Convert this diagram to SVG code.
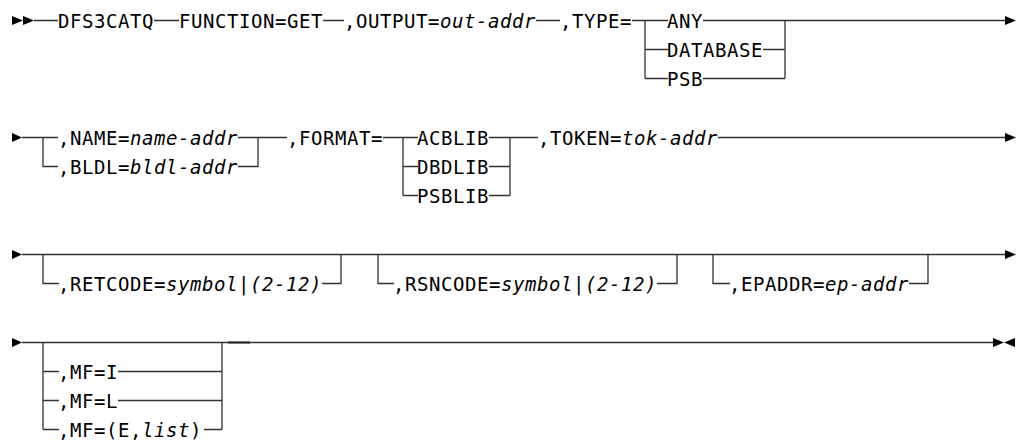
<svg xmlns="http://www.w3.org/2000/svg" width="1021" height="440" viewBox="0 0 1021 440">
<style>
.t{font-family:"DejaVu Sans Mono","Liberation Mono",monospace;font-size:19px;letter-spacing:0.56px;fill:#000}
.i{font-style:italic}
.ln{stroke:#333;stroke-width:1.3;fill:none}
.ah{fill:#000}
</style>
<rect width="1021" height="440" fill="#fff"/>
<g id="connectors">
<!-- row 1 -->
<path class="ln" d="M34 20.5H58M154 20.5H179M323 20.5H344M536 20.5H560M632 20.5H668M703 20.5H1006"/>
<path class="ln" d="M645 20.5V78.5M645 49.5H668M645 78.5H668M763 49.5H785M703 78.5H785M785 20.5V78.5"/>
<!-- row 2 -->
<path class="ln" d="M22 137.5H58M43 137.5V166.5H58M238 137.5H258M238 166.5H258V137.5M258 137.5H287M383 137.5H418M403 137.5V195.5M403 166.5H418M403 195.5H418M489 137.5H538M489 166.5H510M489 195.5H510M510 137.5V195.5M718 137.5H1006"/>
<!-- row 3 -->
<path class="ln" d="M22 254.5H1006"/>
<path class="ln" d="M43 254.5V283.5H59M322 283.5H341V254.5"/>
<path class="ln" d="M378 254.5V283.5H394M657 283.5H677V254.5"/>
<path class="ln" d="M713 254.5V283.5H730M909 283.5H928V254.5"/>
<!-- row 4 -->
<path class="ln" d="M22 342.5H994"/>
<path class="ln" d="M43 342.5V429.5M43 371.5H59M43 400.5H59M43 429.5H59M118 371.5H222M118 400.5H222M204 429.5H222M222 342.5V429.5"/>
<path stroke="#222" stroke-width="2" d="M228 342.5H250"/>
<!-- arrowheads -->
<polygon class="ah" points="12,16 23,20.5 12,25"/>
<polygon class="ah" points="23,16 34,20.5 23,25"/>
<polygon class="ah" points="1005,16 1016,20.5 1005,25"/>
<polygon class="ah" points="12,133 22,137.5 12,142"/>
<polygon class="ah" points="1005,133 1016,137.5 1005,142"/>
<polygon class="ah" points="12,250 22,254.5 12,259"/>
<polygon class="ah" points="1005,250 1016,254.5 1005,259"/>
<polygon class="ah" points="12,338 22,342.5 12,347"/>
<polygon class="ah" points="993,338 1004,342.5 993,347"/>
<polygon class="ah" points="1015,338 1004,342.5 1015,347"/>
</g>
<g id="n-dfs3catq"><text class="t" x="58" y="28">DFS3CATQ</text></g>
<g id="n-function"><text class="t" x="179" y="28">FUNCTION=GET</text></g>
<g id="n-output"><text class="t" x="344" y="28">,OUTPUT=<tspan class="i">out-addr</tspan></text></g>
<g id="n-type"><text class="t" x="560" y="28">,TYPE=</text></g>
<g id="n-any"><text class="t" x="667" y="28">ANY</text></g>
<g id="n-database"><text class="t" x="667" y="57">DATABASE</text></g>
<g id="n-psb"><text class="t" x="667" y="86">PSB</text></g>
<g id="n-name"><text class="t" x="58" y="145">,NAME=<tspan class="i">name-addr</tspan></text></g>
<g id="n-bldl"><text class="t" x="58" y="174">,BLDL=<tspan class="i">bldl-addr</tspan></text></g>
<g id="n-format"><text class="t" x="287" y="145">,FORMAT=</text></g>
<g id="n-acblib"><text class="t" x="417" y="145">ACBLIB</text></g>
<g id="n-dbdlib"><text class="t" x="417" y="174">DBDLIB</text></g>
<g id="n-psblib"><text class="t" x="417" y="203">PSBLIB</text></g>
<g id="n-token"><text class="t" x="538" y="145">,TOKEN=<tspan class="i">tok-addr</tspan></text></g>
<g id="n-retcode"><text class="t" x="58" y="291">,RETCODE=<tspan class="i">symbol</tspan>|<tspan class="i">(2-12)</tspan></text></g>
<g id="n-rsncode"><text class="t" x="393" y="291">,RSNCODE=<tspan class="i">symbol</tspan>|<tspan class="i">(2-12)</tspan></text></g>
<g id="n-epaddr"><text class="t" x="729" y="291">,EPADDR=<tspan class="i">ep-addr</tspan></text></g>
<g id="n-mfi"><text class="t" x="58" y="379">,MF=I</text></g>
<g id="n-mfl"><text class="t" x="58" y="408">,MF=L</text></g>
<g id="n-mfe"><text class="t" x="58" y="437">,MF=(E,<tspan class="i">list</tspan>)</text></g>
</svg>
